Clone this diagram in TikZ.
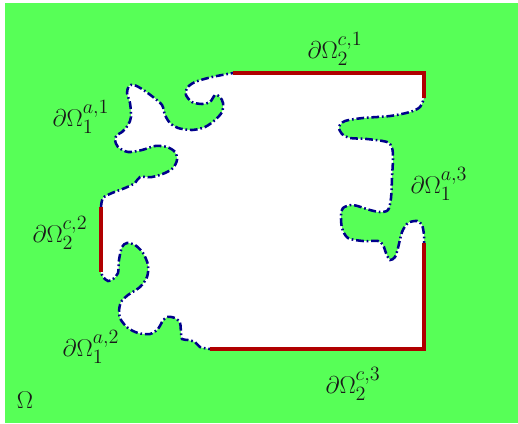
\documentclass[tikz,border=0pt]{standalone}
\usetikzlibrary{positioning}
\usepackage{xcolor}
\definecolor{bggreen}{HTML}{57FF57}
\definecolor{bndred}{HTML}{B00000}
\definecolor{bndblue}{HTML}{00008B}

\begin{document}
\begin{tikzpicture}[
  x=0.025cm, y=-0.025cm,
  adiab/.style={draw=bndblue, line width=1.8pt, dash pattern=on 5.5pt off 2pt on 1.2pt off 2pt},
  cond/.style={draw=bndred, line width=2.8pt},
  lbl/.style={font=\fontsize{19}{22}\selectfont, text=black!90},
]
\useasboundingbox (0,0) rectangle (518,423);
\fill[white] (0,0) rectangle (518,423);
\fill[bggreen] (5,3) rectangle (518,423);

% the hole, its whole boundary drawn as the wiggly part first
\filldraw[adiab, fill=white] (101,207)
  -- plot[smooth] coordinates {(101,207) (103,198) (112,193) (125,188) (135,183) (140,177) (152,177) (165,173) (173,168) (177,160) (175,152) (167,147) (155,146) (142,150) (128,152) (118,147) (115,140) (117,135) (122,132) (128,125) (131,117) (130,103) (127,93) (129,86) (134,85) (142,89) (153,97) (162,105) (165,115) (170,123) (178,128) (192,130) (205,127) (215,120) (222,112) (223,103) (220,97) (215,95) (210,102) (202,104) (192,102) (186,95) (187,88) (195,82) (212,77) (233,73)}
  -- (424,73) -- (424,98)
  -- plot[smooth] coordinates {(424,98) (420,107) (410,112) (390,116) (363,118) (345,121) (339,127) (342,134) (350,138) (367,139) (387,142) (392,148) (393,158) (392,178) (391,198) (388,210) (380,212) (370,210) (353,205) (343,208) (341,215) (342,228) (348,238) (363,241) (378,241) (383,245) (386,253) (390,260) (395,257) (398,248) (402,232) (408,223) (417,221) (422,225) (424,235) (424,243)}
  -- (424,349) -- (210,349)
  -- plot[smooth] coordinates {(210,349) (200,347) (195,342) (188,340) (182,339) (181,333) (180,323) (175,318) (167,317) (162,322) (158,329) (150,334) (138,333) (128,328) (121,320) (119,312) (121,302) (128,295) (140,287) (147,277) (148,265) (143,253) (135,245) (127,243) (122,247) (119,260) (118,273) (113,279) (108,281) (103,277) (101,272)}
  -- cycle;

% straight parts
\draw[cond] (233,73) -- (424,73) -- (424,98);
\draw[cond] (424,243) -- (424,349) -- (210,349);
\draw[cond] (101,207) -- (101,272);

\node[lbl] (c1) at (335,49) {$\partial\Omega_2^{c,1}$};
\node[lbl] (a1) at (81,117) {$\partial\Omega_1^{a,1}$};
\node[lbl] (c2) at (60,233) {$\partial\Omega_2^{c,2}$};
\node[lbl] (a3) at (439,184) {$\partial\Omega_1^{a,3}$};
\node[lbl] (a2) at (91,347) {$\partial\Omega_1^{a,2}$};
\node[lbl] (c3) at (353,384) {$\partial\Omega_2^{c,3}$};
\node[lbl] (omega) at (25,400) {$\Omega$};

\end{tikzpicture}
\end{document}
